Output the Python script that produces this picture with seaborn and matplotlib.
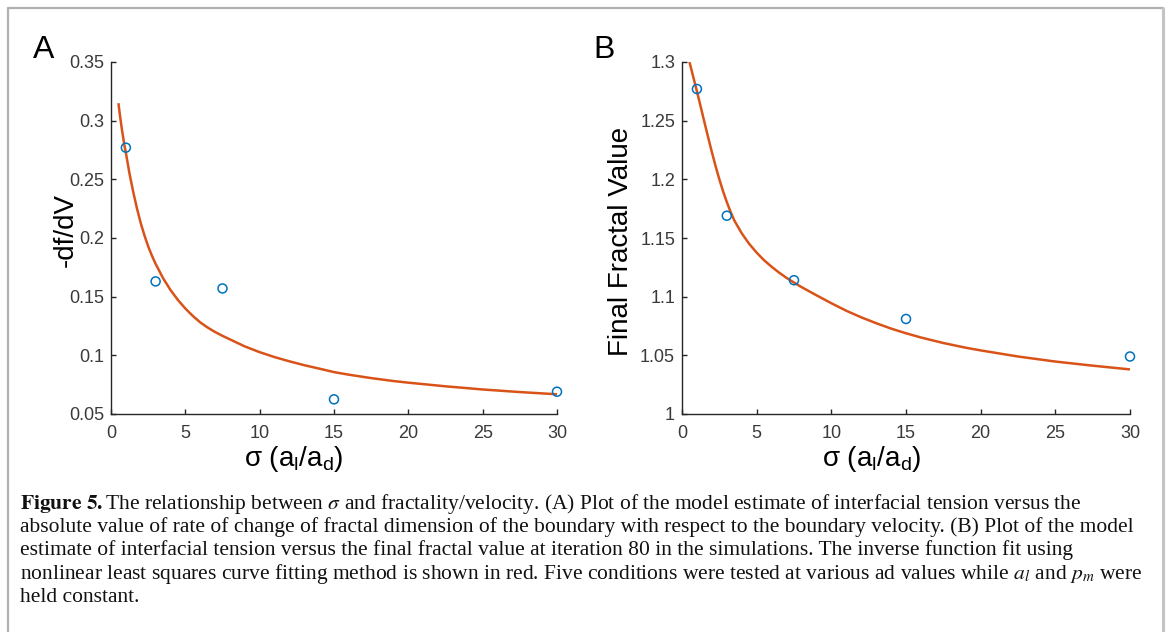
import matplotlib
matplotlib.use("Agg")
import matplotlib.pyplot as plt
from matplotlib.lines import Line2D
from matplotlib.ticker import FuncFormatter
import seaborn as sns
import pandas as pd

# ---------------- data ----------------
sigma_pts = [1, 3, 7.5, 15, 30]
dfdv_pts = [0.277, 0.163, 0.157, 0.0625, 0.069]
fractal_pts = [1.277, 1.169, 1.114, 1.081, 1.049]

fitA_x = [0.5, 0.6, 0.75, 0.9, 1.0, 1.25, 1.5, 1.75, 2.0, 2.25, 2.5, 2.75, 3.0, 3.5, 4.0,
          4.5, 5.0, 5.5, 6.0, 6.5, 7.0, 7.5, 8.0, 9.0, 10, 11, 12, 13, 14, 15, 16, 17.5,
          19, 20, 22.5, 25, 27.5, 30]
fitA_y = [0.3149, 0.3047, 0.2911, 0.2791, 0.2727, 0.2545, 0.2390, 0.2250, 0.2127, 0.2022,
          0.1929, 0.1850, 0.1780, 0.1658, 0.1557, 0.1472, 0.1399, 0.1336, 0.1281, 0.1237,
          0.1199, 0.1166, 0.1136, 0.1076, 0.1027, 0.0985, 0.0949, 0.0916, 0.0887, 0.0857,
          0.0835, 0.0806, 0.0781, 0.0767, 0.0736, 0.0709, 0.0687, 0.0668]

fitB_x = [0.5, 0.75, 1.0, 1.25, 1.5, 1.75, 2.0, 2.25, 2.5, 2.75, 3.0, 3.25, 3.5, 4.0, 4.5,
          5.0, 5.5, 6.0, 6.5, 7.0, 7.5, 8.0, 9.0, 10, 11, 12, 13, 14, 15, 16, 17.5, 19,
          20, 22.5, 25, 27.5, 30]
fitB_y = [1.3000, 1.2875, 1.2750, 1.2620, 1.2488, 1.2358, 1.2232, 1.2112, 1.2000, 1.1898,
          1.1806, 1.1724, 1.1650, 1.1540, 1.1450, 1.1375, 1.1310, 1.1255, 1.1205, 1.1160,
          1.1120, 1.1082, 1.1012, 1.0944, 1.0880, 1.0824, 1.0774, 1.0728, 1.0688, 1.0652,
          1.0605, 1.0565, 1.0542, 1.0490, 1.0447, 1.0412, 1.0380]

xticks = [0, 5, 10, 15, 20, 25, 30]
yticksA = [0.05, 0.1, 0.15, 0.2, 0.25, 0.3, 0.35]
yticksB = [1, 1.05, 1.1, 1.15, 1.2, 1.25, 1.3]

xlabel = "σ (a$_\\mathrm{l}$/a$_\\mathrm{d}$)"
ylabelA = "-df/dV"
ylabelB = "Final Fractal Value"

caption_lines = [
    r"$\mathbf{Figure\ 5.}$The relationship between $\sigma$ and fractality/velocity. (A) Plot of the model estimate of interfacial tension versus the",
    "absolute value of rate of change of fractal dimension of the boundary with respect to the boundary velocity. (B) Plot of the model",
    "estimate of interfacial tension versus the final fractal value at iteration 80 in the simulations. The inverse function fit using",
    r"nonlinear least squares curve fitting method is shown in red. Five conditions were tested at various ad values while $a_l$ and $p_m$ were",
    "held constant.",
]

# ---------------- style ----------------
sns.set_theme(style="ticks")
plt.rcParams["font.family"] = ["Liberation Sans", "DejaVu Sans"]
plt.rcParams["mathtext.fontset"] = "custom"
plt.rcParams["mathtext.rm"] = "Liberation Sans"
plt.rcParams["mathtext.it"] = "Liberation Sans:italic"
plt.rcParams["mathtext.bf"] = "Liberation Sans:bold"

W, H = 1168, 632
fig = plt.figure(figsize=(W / 100, H / 100), dpi=100)
fig.patch.set_facecolor("white")

BLUE = "#0072BD"
ORANGE = "#D95319"
AXC = "#262626"

dfA_pts = pd.DataFrame({"sigma": sigma_pts, "val": dfdv_pts})
dfB_pts = pd.DataFrame({"sigma": sigma_pts, "val": fractal_pts})
dfA_fit = pd.DataFrame({"sigma": fitA_x, "val": fitA_y})
dfB_fit = pd.DataFrame({"sigma": fitB_x, "val": fitB_y})


def px_axes(left, right, top, bottom):
    return fig.add_axes([left / W, 1 - bottom / H, (right - left) / W, (bottom - top) / H])


axA = px_axes(111, 557, 62, 414)
axB = px_axes(682, 1130, 62, 414)

panels = [
    (axA, dfA_pts, dfA_fit, (0.05, 0.35), yticksA, ylabelA, (0.41, -0.085), (-0.072, 0.523)),
    (axB, dfB_pts, dfB_fit, (1.0, 1.3), yticksB, ylabelB, (0.424, -0.085), (-0.108, 0.49)),
]

for ax, pts, fit, ylim, yt, ylab, xlc, ylc in panels:
    sns.lineplot(data=fit, x="sigma", y="val", ax=ax, color=ORANGE, linewidth=1.8,
                 sort=True, estimator=None, zorder=2)
    sns.scatterplot(data=pts, x="sigma", y="val", ax=ax, marker="o", s=42,
                    edgecolor=BLUE, linewidth=1.1, zorder=3, clip_on=False)
    for coll in ax.collections:
        coll.set_facecolor("none")
        coll.set_edgecolor(BLUE)
    for ln in ax.lines:
        ln.set_solid_capstyle("butt")
    ax.set_xlim(0, 30)
    ax.set_ylim(*ylim)
    ax.set_xticks(xticks)
    ax.set_yticks(yt)
    ax.yaxis.set_major_formatter(FuncFormatter(lambda v, _: f"{v:g}"))
    ax.xaxis.set_major_formatter(FuncFormatter(lambda v, _: f"{v:g}"))
    ax.tick_params(direction="in", length=3.5, width=1.0, color=AXC,
                   labelsize=13, labelcolor="#3a3a3a")
    ax.tick_params(axis="x", pad=8)
    ax.tick_params(axis="y", pad=5)
    for s in ("top", "right"):
        ax.spines[s].set_visible(False)
    for s in ("left", "bottom"):
        ax.spines[s].set_color(AXC)
        ax.spines[s].set_linewidth(1.0)
    ax.set_xlabel(xlabel, fontsize=20, color="black")
    ax.set_ylabel(ylab, fontsize=20, color="black")
    ax.xaxis.set_label_coords(*xlc)
    ax.yaxis.set_label_coords(*ylc)
    ax.set_facecolor("white")

# panel letters
fig.text(33 / W, 1 - 58 / H, "A", fontsize=23, color="black", va="baseline", ha="left")
fig.text(593 / W, 1 - 58 / H, "B", fontsize=23, color="black", va="baseline", ha="left")

# caption (font size fitted to the measured width of line 2)
serif = ["Liberation Serif", "DejaVu Serif"]
probe = fig.text(0, 0, caption_lines[1], fontsize=14, family=serif)
fig.canvas.draw()
wpx = probe.get_window_extent(fig.canvas.get_renderer()).width
probe.remove()
cap_size = 14 * 1116 / wpx

y0 = 509
for i, line in enumerate(caption_lines):
    fig.text(20 / W, 1 - (y0 + i * 23.2) / H, line, fontsize=cap_size, family=serif,
             color="#111111", va="baseline", ha="left", math_fontfamily="stix")

# frame lines (open at the bottom)
FR = "#b0b0b0"
fig.add_artist(Line2D([8 / W, 8 / W], [0, 1 - 8 / H], color=FR, linewidth=1.6,
                      transform=fig.transFigure))
fig.add_artist(Line2D([8 / W, 1163 / W], [1 - 8 / H, 1 - 8 / H], color=FR, linewidth=1.6,
                      transform=fig.transFigure))
fig.add_artist(Line2D([1163 / W, 1163 / W], [0, 1 - 8 / H], color="#c4c4c4", linewidth=2.2,
                      transform=fig.transFigure))

fig.savefig("out.png", dpi=100, facecolor="white")
